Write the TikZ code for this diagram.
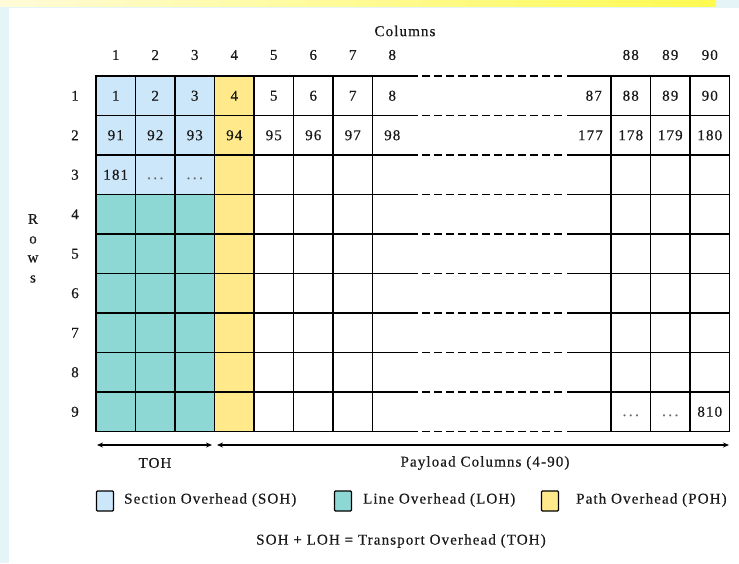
\documentclass[tikz,border=0pt]{standalone}
\usepackage{fontspec}
\setmainfont{Liberation Serif}[LetterSpace=7.5,FakeBold=0.4]
\usetikzlibrary{arrows.meta}
\definecolor{bgcyan}{HTML}{E5F5F7}
\definecolor{barlight}{HTML}{FFFBD8}
\definecolor{barbright}{HTML}{FFFA50}
\definecolor{soh}{HTML}{CCE7FA}
\definecolor{loh}{HTML}{8DD8D5}
\definecolor{poh}{HTML}{FFE98B}
\newcommand{\mydots}{.\hspace{2.5pt}.\hspace{2.5pt}.}
\tikzset{
  gridline/.style={line width=1.4pt, black},
  dashline/.style={line width=1.4pt, black, dash pattern=on 8pt off 4pt},
  txt/.style={inner sep=0pt, text=black!90},
  dotstxt/.style={inner sep=0pt, text=black!60},
  arr/.style={line width=1.1pt, {Stealth[length=6pt,width=5pt]}-{Stealth[length=6pt,width=5pt]}},
  legbox/.style={draw=black, line width=1.3pt, rounded corners=1pt, minimum width=17pt, minimum height=20pt, inner sep=0pt},
}
\begin{document}
\begin{tikzpicture}[x=1pt,y=-1pt,font=\fontsize{15}{18}\selectfont]
\useasboundingbox (0,0) rectangle (739,563);
% background
\fill[bgcyan] (0,0) rectangle (739,563);
\fill[white] (9,8) rectangle (739,563);
\shade[left color=barlight,right color=barbright] (0,0) rectangle (716,6);
% fills
\fill[soh] (96,76) rectangle (214.5,194.5);
\fill[loh] (96,194.5) rectangle (214.5,431.5);
\fill[poh] (214.5,76) rectangle (254,431.5);
% vertical lines
\foreach \x in {96,135.5,175,214.5,254,293.5,333,372.5,611,650.5,690,729.5}
  \draw[gridline] (\x,76) -- (\x,431.5);
% horizontal lines
\foreach \k in {0,...,9}{
  \pgfmathsetmacro{\yy}{76+39.5*\k}
  \draw[gridline] (95.3,\yy) -- (418,\yy);
  \draw[dashline] (422,\yy) -- (562,\yy);
  \draw[gridline] (567,\yy) -- (730.2,\yy);
}
% titles
\node[txt] (coltitle) at (405,31) {Columns};
\foreach \c/\x in {1/115.75,2/155.25,3/194.75,4/234.25,5/273.75,6/313.25,7/352.75,8/392.25}
  \node[txt] (ch\c) at (\x,55) {\c};
\node[txt] (ch88) at (630.75,55) {88};
\node[txt] (ch89) at (670.25,55) {89};
\node[txt] (ch90) at (709.75,55) {90};
\foreach \r in {1,...,9}
  \node[txt] (rl\r) at (75,{76+39.5*\r-19.75}) {\r};
\node[txt] (rR) at (33,219) {R};
\node[txt] (ro) at (33,240) {o};
\node[txt] (rw) at (33,259) {w};
\node[txt] (rs) at (33,279) {s};
% row 1
\foreach \c/\x in {1/115.75,2/155.25,3/194.75,4/234.25,5/273.75,6/313.25,7/352.75,8/392.25}
  \node[txt] (a\c) at (\x,95.75) {\c};
\node[txt,anchor=east] (a87) at (602,95.75) {87};
\node[txt] (a88) at (630.75,95.75) {88};
\node[txt] (a89) at (670.25,95.75) {89};
\node[txt] (a90) at (709.75,95.75) {90};
% row 2
\foreach \n/\x in {91/115.75,92/155.25,93/194.75,94/234.25,95/273.75,96/313.25,97/352.75,98/392.25}
  \node[txt] (b\n) at (\x,135.25) {\n};
\node[txt,anchor=east] (b177) at (603,135.25) {177};
\node[txt] (b178) at (630.75,135.25) {178};
\node[txt] (b179) at (670.25,135.25) {179};
\node[txt] (b180) at (709.75,135.25) {180};
% row 3
\node[txt] (c181) at (115.75,174.75) {181};
\node[dotstxt,anchor=base] (c2) at (155.25,179) {\mydots};
\node[dotstxt,anchor=base] (c3) at (194.75,179) {\mydots};
% row 9
\node[dotstxt,anchor=base] (i88) at (630.75,416) {\mydots};
\node[dotstxt,anchor=base] (i89) at (670.25,416) {\mydots};
\node[txt] (i810) at (709.75,411.75) {810};
% arrows
\coordinate (toha) at (97,445);
\coordinate (tohb) at (212,445);
\coordinate (pla) at (217,445);
\coordinate (plb) at (729,445);
\draw[arr] (toha) -- (tohb);
\draw[arr] (pla) -- (plb);
\node[txt] (tohlbl) at (155,463) {TOH};
\node[txt] (pllbl) at (485,463) {Payload Columns (4-90)};
% legend
\node[legbox,fill=soh] (lsoh) at (105,501) {};
\node[txt,anchor=west] (tsoh) at (124,500) {Section Overhead (SOH)};
\node[legbox,fill=loh] (lloh) at (343,501) {};
\node[txt,anchor=west] (tloh) at (363,500) {Line Overhead (LOH)};
\node[legbox,fill=poh] (lpoh) at (550,501) {};
\node[txt,anchor=west] (tpoh) at (576,500) {Path Overhead (POH)};
\node[txt] (eqn) at (401,541) {SOH + LOH = Transport Overhead (TOH)};
\end{tikzpicture}
\end{document}
